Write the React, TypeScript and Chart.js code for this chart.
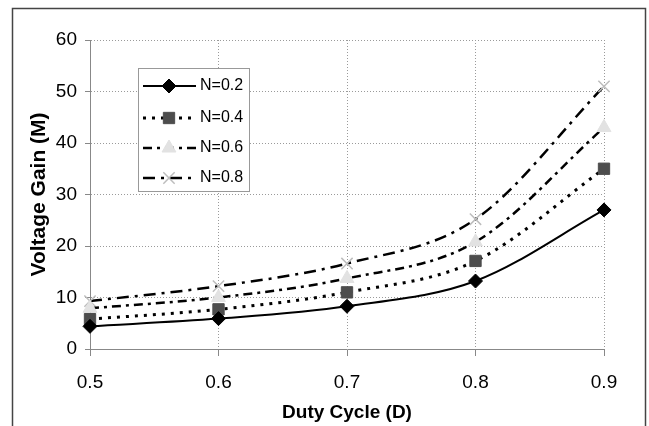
import React, { useEffect, useRef } from 'react';
import { Chart, registerables } from 'chart.js';
import { drawPoint } from 'chart.js/helpers';

Chart.register(...registerables);

// ---- data ----
const dutyCycle = ['0.5', '0.6', '0.7', '0.8', '0.9'];
const seriesLabels = ['N=0.2', 'N=0.4', 'N=0.6', 'N=0.8'];
const gainN02 = [4.4, 5.9, 8.3, 13.2, 27];
const gainN04 = [5.8, 7.7, 11, 17.1, 35];
const gainN06 = [7.9, 10, 13.7, 20.8, 43];
const gainN08 = [9.3, 12.2, 16.6, 25.2, 51];
const yMin = 0;
const yMax = 60;
const yStep = 10;

const FONT = '"Liberation Sans", Arial, Helvetica, sans-serif';

const framePlugin = {
  id: 'frame',
  beforeDraw(chart: any) {
    const { ctx, width, height } = chart;
    ctx.save();
    ctx.fillStyle = '#ffffff';
    ctx.fillRect(0, 0, width, height);
    ctx.strokeStyle = '#444444';
    ctx.lineWidth = 1.5;
    ctx.strokeRect(12.5, 8.5, 633, height + 20);
    ctx.restore();
  },
};

const boxLegendPlugin = {
  id: 'boxLegend',
  afterDatasetsDraw(chart: any) {
    const { ctx, chartArea } = chart;
    const bx = chartArea.left + 48;
    const by = chartArea.top + 28;
    const bw = 111;
    const bh = 123;
    const rows = [18, 50, 80, 110];
    ctx.save();
    ctx.fillStyle = '#ffffff';
    ctx.fillRect(bx, by, bw, bh);
    ctx.strokeStyle = '#999999';
    ctx.lineWidth = 1;
    ctx.strokeRect(bx + 0.5, by + 0.5, bw, bh);
    chart.data.datasets.forEach((ds: any, i: number) => {
      const y = by + rows[i];
      ctx.beginPath();
      ctx.setLineDash(ds.borderDash || []);
      ctx.strokeStyle = ds.borderColor;
      ctx.lineWidth = ds.borderWidth;
      ctx.lineCap = 'butt';
      ctx.moveTo(bx + 5, y);
      ctx.lineTo(bx + 58, y);
      ctx.stroke();
      ctx.setLineDash([]);
      ctx.fillStyle = ds.pointBackgroundColor;
      ctx.strokeStyle = ds.pointBorderColor;
      ctx.lineWidth = ds.pointBorderWidth;
      drawPoint(
        ctx,
        { pointStyle: ds.pointStyle, radius: ds.pointRadius, rotation: 0, borderWidth: ds.pointBorderWidth } as any,
        bx + 31,
        y
      );
      ctx.fillStyle = '#000000';
      ctx.font = `16px ${FONT}`;
      ctx.textBaseline = 'middle';
      ctx.textAlign = 'left';
      ctx.fillText(ds.label, bx + 62, y);
    });
    ctx.restore();
  },
};

export default function App() {
  const canvasRef = useRef<HTMLCanvasElement | null>(null);

  useEffect(() => {
    if (!canvasRef.current) return;
    const chart = new Chart(canvasRef.current, {
      type: 'line',
      data: {
        labels: dutyCycle,
        datasets: [
          {
            label: seriesLabels[0],
            data: gainN02,
            borderColor: '#000000',
            borderWidth: 2,
            borderDash: [],
            pointStyle: 'rectRot',
            pointRadius: 7,
            pointBackgroundColor: '#000000',
            pointBorderColor: '#000000',
            pointBorderWidth: 1,
            cubicInterpolationMode: 'monotone',
          },
          {
            label: seriesLabels[1],
            data: gainN04,
            borderColor: '#000000',
            borderWidth: 3,
            borderDash: [3, 6],
            pointStyle: 'rect',
            pointRadius: 8,
            pointBackgroundColor: '#4d4d4d',
            pointBorderColor: '#4d4d4d',
            pointBorderWidth: 1,
            cubicInterpolationMode: 'monotone',
          },
          {
            label: seriesLabels[2],
            data: gainN06,
            borderColor: '#000000',
            borderWidth: 2.5,
            borderDash: [9, 5, 3, 5],
            pointStyle: 'triangle',
            pointRadius: 8,
            pointBackgroundColor: '#e2e2e2',
            pointBorderColor: '#e2e2e2',
            pointBorderWidth: 1,
            cubicInterpolationMode: 'monotone',
          },
          {
            label: seriesLabels[3],
            data: gainN08,
            borderColor: '#000000',
            borderWidth: 2.5,
            borderDash: [12, 6, 3, 6],
            pointStyle: 'crossRot',
            pointRadius: 8,
            pointBackgroundColor: '#bdbdbd',
            pointBorderColor: '#bdbdbd',
            pointBorderWidth: 1.5,
            cubicInterpolationMode: 'monotone',
          },
        ],
      },
      options: {
        animation: false,
        responsive: true,
        maintainAspectRatio: false,
        devicePixelRatio: 1,
        layout: { padding: { left: 0, top: 40, right: 45, bottom: 0 } },
        plugins: {
          legend: { display: false },
          tooltip: { enabled: false },
        },
        scales: {
          x: {
            type: 'category',
            offset: false,
            grid: {
              color: '#9a9a9a',
              lineWidth: 1,
              tickLength: 7,
              tickColor: '#888888',
              tickBorderDash: [],
            },
            border: { display: true, color: '#888888', width: 1, dash: [1, 2] },
            ticks: {
              color: '#000000',
              font: { family: FONT, size: 19 },
              padding: 15,
              maxRotation: 0,
              autoSkip: false,
            },
            title: {
              display: true,
              text: 'Duty Cycle (D)',
              color: '#000000',
              font: { family: FONT, size: 19, weight: 'bold' },
              padding: { top: 2, bottom: 2 },
            },
            afterFit(scale: any) {
              scale.height = 77;
            },
          },
          y: {
            min: yMin,
            max: yMax,
            grid: {
              color: '#9a9a9a',
              lineWidth: 1,
              tickLength: 5,
              tickColor: '#888888',
              tickBorderDash: [],
            },
            border: { display: true, color: '#888888', width: 1, dash: [1, 2] },
            ticks: {
              stepSize: yStep,
              color: '#000000',
              font: { family: FONT, size: 19 },
              padding: 8,
            },
            title: {
              display: true,
              text: 'Voltage Gain (M)',
              color: '#000000',
              font: { family: FONT, size: 21, weight: 'bold' },
              padding: { top: 27, bottom: 27 },
            },
            afterFit(scale: any) {
              scale.width = 90;
            },
          },
        },
      } as any,
      plugins: [framePlugin, boxLegendPlugin],
    });
    return () => chart.destroy();
  }, []);

  return (
    <div style={{ position: 'absolute', left: 0, top: 0, width: 649, height: 426 }}>
      <canvas ref={canvasRef} />
    </div>
  );
}
